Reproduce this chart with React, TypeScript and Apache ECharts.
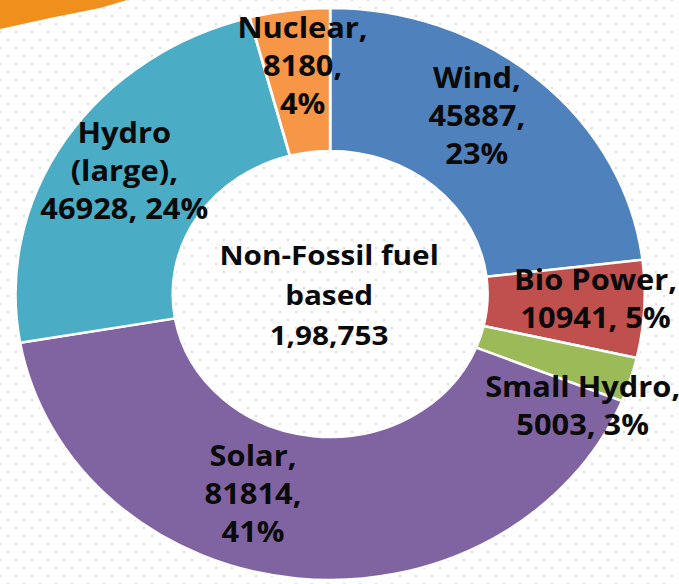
import React, { useEffect, useRef } from "react";
import * as echarts from "echarts";

// ---- data ----
const categories = ["Wind", "Bio Power", "Small Hydro", "Solar", "Hydro (large)", "Nuclear"];
const capacityMW = [45887, 10941, 5003, 81814, 46928, 8180];
const sharePct = [23, 5, 3, 41, 24, 4];
const centerLines = ["Non-Fossil fuel", "based", "1,98,753"];

// ---- style ----
const colors = ["#4F81BD", "#C0504D", "#9BBB59", "#8064A2", "#4BACC6", "#F79646"];
const labelStyleKinds = ["stack", "wide", "wide", "stack", "hydro", "stack"];
const labelNudges: number[][] = [
  [-11, -16],
  [24, -7],
  [22, 46],
  [-47, -17],
  [-4, -6],
  [3, -13],
];

const PAGE_W = 679;
const PAGE_H = 584;
const INNER_W = 617;
const SX = PAGE_W / INNER_W;

function formatLabel(i: number): string {
  const name = categories[i];
  const v = capacityMW[i];
  const p = sharePct[i];
  const kind = labelStyleKinds[i];
  if (kind === "wide") return `${name},\n${v}, ${p}%`;
  if (kind === "hydro") {
    const parts = name.split(" ");
    return `${parts[0]}\n${parts[1]},\n${v}, ${p}%`;
  }
  return `${name},\n${v},\n${p}%`;
}

export default function App() {
  const ref = useRef<HTMLDivElement>(null);

  useEffect(() => {
    if (!ref.current) return;
    const chart = echarts.init(ref.current, undefined, { renderer: "svg" });
    chart.setOption({
      animation: false,
      backgroundColor: "transparent",
      color: colors,
      graphic: [
        {
          type: "polygon",
          shape: {
            points: [
              [0, -5],
              [118, -5],
              [115.4, 0],
              [90.9, 8],
              [45.4, 18],
              [0, 29],
            ],
          },
          style: { fill: "#F0901C" },
        },
        {
          type: "text",
          x: 299,
          y: 295,
          style: {
            text: centerLines.join("\n"),
            fontSize: 27,
            fontWeight: "bold",
            fontFamily: "Open Sans",
            lineHeight: 40,
            align: "center",
            verticalAlign: "middle",
            fill: "#0a0a0a",
          },
        },
      ],
      series: [
        {
          type: "pie",
          center: [300, 294],
          radius: [143, 286],
          startAngle: 90,
          clockwise: true,
          avoidLabelOverlap: false,
          itemStyle: { borderColor: "#ffffff", borderWidth: 2.5 },
          label: {
            show: true,
            position: "inside",
            formatter: (p: any) => formatLabel(p.dataIndex),
            fontSize: 28,
            fontWeight: "bold",
            fontFamily: "Open Sans",
            lineHeight: 38,
            color: "#0a0a0a",
            align: "center",
          },
          labelLine: { show: false },
          labelLayout: (params: any) => ({
            dx: labelNudges[params.dataIndex][0],
            dy: labelNudges[params.dataIndex][1],
          }),
          emphasis: { disabled: true },
          data: categories.map((c, i) => ({ name: c, value: capacityMW[i] })),
        },
      ],
    });
    return () => chart.dispose();
  }, []);

  return (
    <div
      style={{
        position: "absolute",
        left: 0,
        top: 0,
        width: PAGE_W,
        height: PAGE_H,
        overflow: "hidden",
        backgroundColor: "#ffffff",
        backgroundImage:
          "radial-gradient(circle, #dcdcdc 0.8px, transparent 1.3px), radial-gradient(circle, #dcdcdc 0.8px, transparent 1.3px)",
        backgroundSize: "16px 16px",
        backgroundPosition: "0 0, 8px 8px",
      }}
    >
      <div
        ref={ref}
        style={{
          width: INNER_W,
          height: PAGE_H,
          transform: `scaleX(${SX})`,
          transformOrigin: "0 0",
        }}
      />
    </div>
  );
}
